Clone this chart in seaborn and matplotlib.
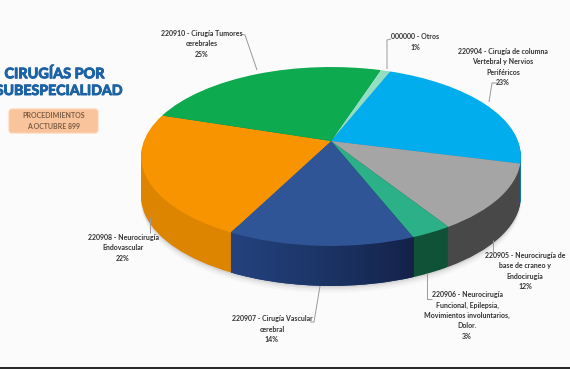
import numpy as np
import matplotlib
matplotlib.use("Agg")
import matplotlib.pyplot as plt
import matplotlib.patheffects as pe
from matplotlib.patches import Circle, FancyBboxPatch, Rectangle
from matplotlib.transforms import Transform
import seaborn as sns

# ---- data ----
labels = [
    "000000 - Otros\n1%",
    "220904 - Cirugía de columna\nVertebral y Nervios\nPeriféricos\n23%",
    "220905 - Neurocirugía de\nbase de craneo y\nEndocirugía\n12%",
    "220906 - Neurocirugía\nFuncional, Epilepsia,\nMovimientos involuntarios,\nDolor.\n3%",
    "220907 - Cirugía Vascular\ncerebral\n14%",
    "220908 - Neurocirugía\nEndovascular\n22%",
    "220910 - Cirugía Tumores\ncerebrales\n25%",
]
values = [1, 23, 12, 3, 13.5, 22.5, 25]
top_colors = ["#93dfc4", "#02adee", "#a5a5a5", "#2bb087", "#2f5597", "#f79400", "#0eaa4f"]
side_colors = ["#6fb89e", "#0183b5", "#484848", "#0f5237", "#1f3a70", "#dd8500", "#0a7d3a"]
label_pos = [(415, 42), (503, 67), (525, 271), (467, 315.5), (272, 329), (123, 248), (202, 44)]
leaders = [
    [(387, 69), (387, 40), (391, 39)],
    [(489, 102), (492, 83), (497, 83)],
    [(493, 240), (493, 252)],
    [(427, 273), (427, 299), (432, 299)],
    [(320, 286), (314, 322), (310, 322)],
    [(150, 217), (150, 233)],
    [(257, 70), (245, 35), (241, 34)],
]
title_lines = ["CIRUGÍAS POR", "SUBESPECIALIDAD"]
note = "PROCEDIMIENTOS\nA OCTUBRE 899"

sns.set_theme(style="white")
plt.rcParams["font.family"] = ["Lato", "DejaVu Sans"]


class Tilt(Transform):
    """Perspective view of the unit pie, in pixel units of the image."""
    input_dims = output_dims = 2
    is_separable = False
    has_inverse = False

    def __init__(self, cx=331, cy=141, c=187, b=86.8, k=0.173, drop=0):
        super().__init__()
        self.p = (cx, cy, c, b, k, drop)

    def transform_non_affine(self, xy):
        cx, cy, c, b, k, drop = self.p
        xy = np.asarray(xy, float)
        w = 1 + k * xy[:, 1]
        return np.column_stack([cx + c * xy[:, 0] / w, cy - b * xy[:, 1] / w + drop])


fig = plt.figure(figsize=(5.7, 3.69), dpi=100, facecolor="#fbfbfb")
ax = fig.add_axes([0, 0, 1, 1])
ax.set_facecolor("#fbfbfb")

start = 90 - 18
depth = 40


def draw_pie(colors, drop):
    wedges, _ = ax.pie(values, colors=colors, startangle=start, counterclock=False, radius=1,
                       wedgeprops=dict(linewidth=0))
    tr = Tilt(drop=drop) + ax.transData
    for w in wedges:
        w.set_transform(tr)
        w.set_clip_on(False)
    return wedges


ax.set_aspect("auto")
# soft shadow below the pie
for i, a in zip([7, 5, 3, 1.5], [0.03, 0.04, 0.06, 0.08]):
    ax.add_patch(Circle((0, 0), 1, fc="#404040", ec="none", alpha=a, transform=Tilt(drop=depth + i) + ax.transData))

# side wall
for d in np.arange(depth, 0, -1):
    draw_pie(side_colors, d)

# shaded front of the navy wall: spans the rim between the navy slice's two edges
edges = start - np.cumsum([0] + values) * 3.6
t_right, t_left = np.radians(edges[4]), np.radians(edges[5])
rim = Tilt().transform_non_affine(np.array([[np.cos(t_left), np.sin(t_left)], [np.cos(t_right), np.sin(t_right)]]))
navy_grad = sns.blend_palette(["#24427f", "#1c3566", "#14224a"], 64)
grad = np.array(navy_grad)[None, :, :]
im = ax.imshow(grad, extent=(rim[0, 0], rim[1, 0], rim[0, 1] + depth + 25, rim[0, 1] - 5),
               aspect="auto", zorder=1.5, interpolation="bilinear")
im.set_clip_path(Circle((0, 0), 1, transform=Tilt(drop=depth) + ax.transData))

# top face
for w in draw_pie(top_colors, 0):
    w.set_zorder(2)

ax.set_aspect("auto")
ax.set_xlim(0, 570)
ax.set_ylim(369, 0)
ax.axis("off")

# leader lines
for pts in leaders:
    xs, ys = zip(*pts)
    ax.plot(xs, ys, color="#9a9a9a", lw=0.7, zorder=3, solid_capstyle="butt")

# slice labels
for txt, (x, y) in zip(labels, label_pos):
    ax.text(x, y, txt, ha="center", va="center", fontsize=5, fontweight="bold", color="#333333",
            linespacing=1.55, zorder=4)

# title block
thick = [pe.withStroke(linewidth=0.7, foreground="#1c62a4")]
ax.text(54, 74, title_lines[0], ha="center", va="center", fontsize=10.4, fontweight="bold", color="#1c62a4",
        zorder=4, path_effects=thick)
ax.text(122, 91, title_lines[1], ha="right", va="center", fontsize=10.2, fontweight="bold", color="#1c62a4",
        zorder=4, path_effects=thick)
ax.add_patch(FancyBboxPatch((9, 109), 89, 24, boxstyle="round,pad=0,rounding_size=3", fc="#f9c49b", ec="#fbd3b4", lw=0.8, zorder=3))
ax.text(54, 121, note, ha="center", va="center", fontsize=5, color="#7b5c45", linespacing=1.6, zorder=4, fontweight="bold")

# dark strip along the bottom edge
ax.add_patch(Rectangle((0, 367), 570, 2, fc="#2b2b2b", ec="none", zorder=5))

fig.savefig("out.png", dpi=100, facecolor=fig.get_facecolor())
